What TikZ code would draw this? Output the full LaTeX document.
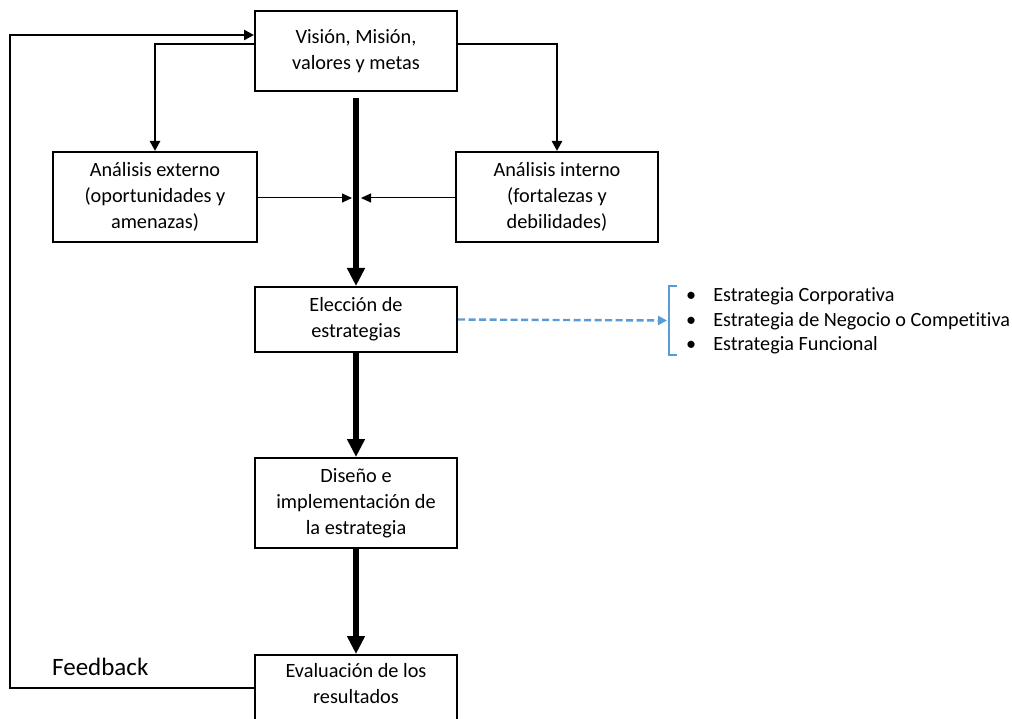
\documentclass[tikz,border=0pt]{standalone}
\usepackage{fontspec}
\setmainfont[Ligatures=NoCommon]{Carlito}
\usetikzlibrary{arrows.meta}
\definecolor{dashblue}{RGB}{91,155,213}
\begin{document}
\begin{tikzpicture}[x=1pt,y=-1pt,
  box/.style={draw,line width=2pt,minimum width=202pt,align=center,
    font=\fontsize{20.3}{26}\selectfont,inner sep=0pt},
  thin/.style={line width=1pt,-{Triangle[length=10pt,width=9pt]}},
  mid/.style={line width=2.8pt,-{Triangle[length=10pt,width=10pt]}},
  thick/.style={line width=5.5pt,-{Triangle[length=18pt,width=17pt]}}]
\useasboundingbox (0,0) rectangle (1012,719);
% boxes
\node[box,minimum height=80pt] (vis) at (356,51) {Visión, Misión,\\valores y metas};
\node[box,minimum height=90pt,minimum width=204pt] (ext) at (155,197) {Análisis externo\\(oportunidades y\\amenazas)};
\node[box,minimum height=90pt] (int) at (557,197) {Análisis interno\\(fortalezas y\\debilidades)};
\node[box,minimum height=65pt] (ele) at (356,319.5) {Elección de\\estrategias};
\node[box,minimum height=90pt] (dis) at (356,503) {Diseño e\\implementación de\\la estrategia};
\node[box,minimum height=90pt] (eva) at (356,700) {};
\node[font=\fontsize{20.3}{26}\selectfont,align=center,anchor=north] (evat) at (356,660) {Evaluación de los\\resultados};
% vertical spine
\coordinate (spinemid) at (356,198);
\draw[thick,shorten <=6pt] (vis.south) -- (ele.north);
\draw[thin] (ext.east |- spinemid) -- ([xshift=-4pt]spinemid);
\draw[thin] (int.west |- spinemid) -- ([xshift=5pt]spinemid);
\draw[thick] (ele.south) -- (dis.north);
\draw[thick] (dis.south) -- (eva.north);
% branches from the top box
\draw[mid] ([yshift=7pt]vis.west) -| (ext.north);
\draw[mid] ([yshift=7pt]vis.east) -| (int.north);
% feedback loop
\coordinate (fbtop) at (10,35);
\coordinate (fbbot) at (10,688);
\draw[mid] (eva.west |- fbbot) -- (fbbot) -- (fbtop) -- (vis.west |- fbtop);
\node[font=\fontsize{25}{30}\selectfont,anchor=west,inner sep=0pt] (fb) at (52,667) {Feedback};
% strategy list
\draw[dashblue,line width=2.4pt,dash pattern=on 7pt off 3.5pt,-{Triangle[length=9pt,width=9pt]}]
  (ele.east) -- (667,320.5);
\draw[dashblue,line width=1.4pt] (677,286) -- (669,286) -- (669,355) -- (677,355);
\node[anchor=west,font=\fontsize{20.2}{24.5}\selectfont,align=left,inner sep=0pt] (list) at (686,321)
  {\textbullet\hspace{17pt}Estrategia Corporativa\\
   \textbullet\hspace{17pt}Estrategia de Negocio o Competitiva\\
   \textbullet\hspace{17pt}Estrategia Funcional};
\end{tikzpicture}
\end{document}
